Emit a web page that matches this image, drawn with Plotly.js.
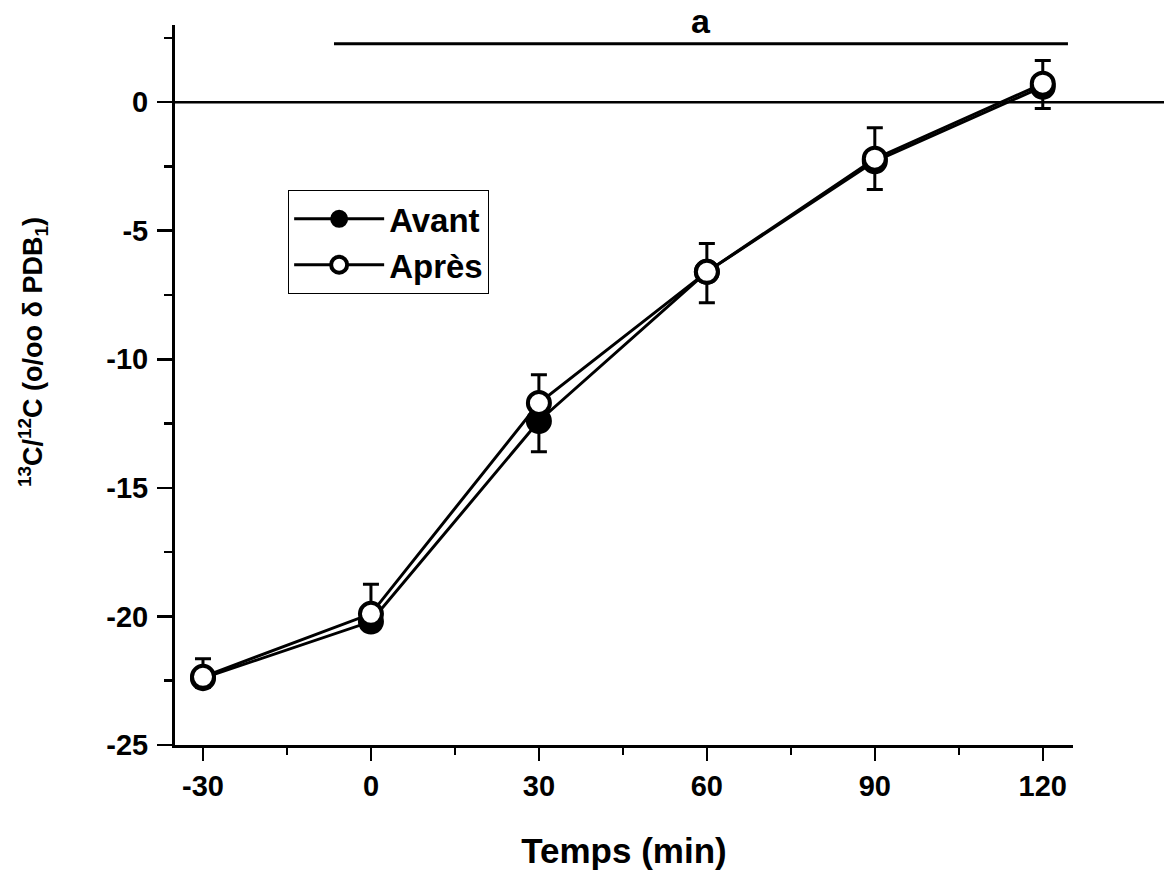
<!DOCTYPE html>
<html>
<head>
<meta charset="utf-8">
<script src="https://cdn.plot.ly/plotly-3.0.1.min.js"></script>
<style>html,body{margin:0;padding:0;background:#fff;}#chart{width:1164px;height:873px;}</style>
</head>
<body>
<div id="chart"></div>
<script>
// Data
const times = [-30, 0, 30, 60, 90, 120];
const avant = [-22.4, -20.2, -12.4, -6.6, -2.3, 0.6];
const avantErrDown = [0.35, 0.3, 1.2, 1.2, 1.1, 0.85];
const apres = [-22.35, -19.9, -11.7, -6.6, -2.2, 0.72];
const apresErrUp = [0.7, 1.15, 1.1, 1.1, 1.2, 0.9];
const seriesNames = ['Avant', 'Après'];
const xTickVals = [-30, 0, 30, 60, 90, 120];
const yTickVals = [-25, -20, -15, -10, -5, 0];
const xTitle = 'Temps (min)';
const yTitle = '<sup>13</sup>C/<sup>12</sup>C (o/oo δ PDB<sub>1</sub>)';
const sigLabel = 'a';
const sigSpan = [-6.6, 124.5];
const sigLevel = 2.27;

const W = 1164, H = 873;
const margin = {l: 175, r: 91, t: 25, b: 128};
const xRange = [-35, 125.4];
const yRange = [-25, 3];
const plotW = W - margin.l - margin.r;
const plotH = H - margin.t - margin.b;
const font = {family: 'Liberation Sans, Arial, sans-serif', color: '#000', weight: 'bold'};
const F = (size) => Object.assign({size: size}, font);

const zeros = times.map(() => 0);

const traces = [
  {
    x: times, y: avant, name: seriesNames[0], type: 'scatter', mode: 'lines+markers',
    line: {color: '#000', width: 3},
    marker: {symbol: 'circle', size: 24, color: '#000', line: {color: '#000', width: 2}},
    error_y: {type: 'data', symmetric: false, array: zeros, arrayminus: avantErrDown,
              color: '#000', thickness: 3, width: 8}
  },
  {
    x: times, y: apres, name: seriesNames[1], type: 'scatter', mode: 'lines+markers',
    line: {color: '#000', width: 3},
    marker: {symbol: 'circle', size: 22, color: '#fff', line: {color: '#000', width: 4}},
    error_y: {type: 'data', symmetric: false, array: apresErrUp, arrayminus: zeros,
              color: '#000', thickness: 3, width: 8}
  }
];

const zeroPaperY = (0 - yRange[0]) / (yRange[1] - yRange[0]);

const layout = {
  width: W, height: H, margin: margin,
  paper_bgcolor: '#fff', plot_bgcolor: '#fff',
  font: F(28),
  showlegend: true,
  legend: {
    x: 0.126, y: 0.771, xanchor: 'left', yanchor: 'top',
    bordercolor: '#000', borderwidth: 1, bgcolor: '#fff',
    font: F(33), itemwidth: 90, itemsizing: 'trace', tracegroupgap: 0
  },
  xaxis: {
    range: xRange, showgrid: false, zeroline: false,
    showline: true, linecolor: '#000', linewidth: 3,
    ticks: 'outside', ticklen: 13, tickwidth: 2.5, tickcolor: '#000',
    tickvals: xTickVals, ticktext: xTickVals.map(String),
    tickfont: F(29),
    minor: {dtick: 15, tick0: 0, ticks: 'outside', ticklen: 7, tickwidth: 2.5, tickcolor: '#000'},
    title: {text: xTitle, font: F(35), standoff: 38}
  },
  yaxis: {
    range: yRange, showgrid: false, zeroline: false,
    showline: true, linecolor: '#000', linewidth: 3,
    ticks: 'outside', ticklen: 15, tickwidth: 2.5, tickcolor: '#000',
    ticklabelstandoff: 3,
    tickvals: yTickVals, ticktext: yTickVals.map(String),
    tickfont: F(29),
    minor: {dtick: 2.5, tick0: 0, ticks: 'outside', ticklen: 8, tickwidth: 2.5, tickcolor: '#000'}
  },
  shapes: [
    {type: 'line', xref: 'paper', yref: 'paper', x0: 0, x1: (W - margin.l) / plotW, y0: zeroPaperY, y1: zeroPaperY,
     line: {color: '#000', width: 2.5}},
    {type: 'line', xref: 'x', yref: 'y', x0: sigSpan[0], x1: sigSpan[1], y0: sigLevel, y1: sigLevel,
     line: {color: '#000', width: 3}}
  ],
  annotations: [
    {xref: 'x', yref: 'y', x: (sigSpan[0] + sigSpan[1]) / 2, y: sigLevel, text: sigLabel, showarrow: false,
     yanchor: 'bottom', yshift: 2, font: F(34)},
    {xref: 'paper', yref: 'paper', x: (33 - margin.l) / plotW, y: (H - margin.b - 352) / plotH,
     xanchor: 'center', yanchor: 'middle', textangle: -90, text: yTitle, showarrow: false, font: F(27)}
  ]
};

Plotly.newPlot('chart', traces, layout, {displayModeBar: false, staticPlot: true});
</script>
</body>
</html>
